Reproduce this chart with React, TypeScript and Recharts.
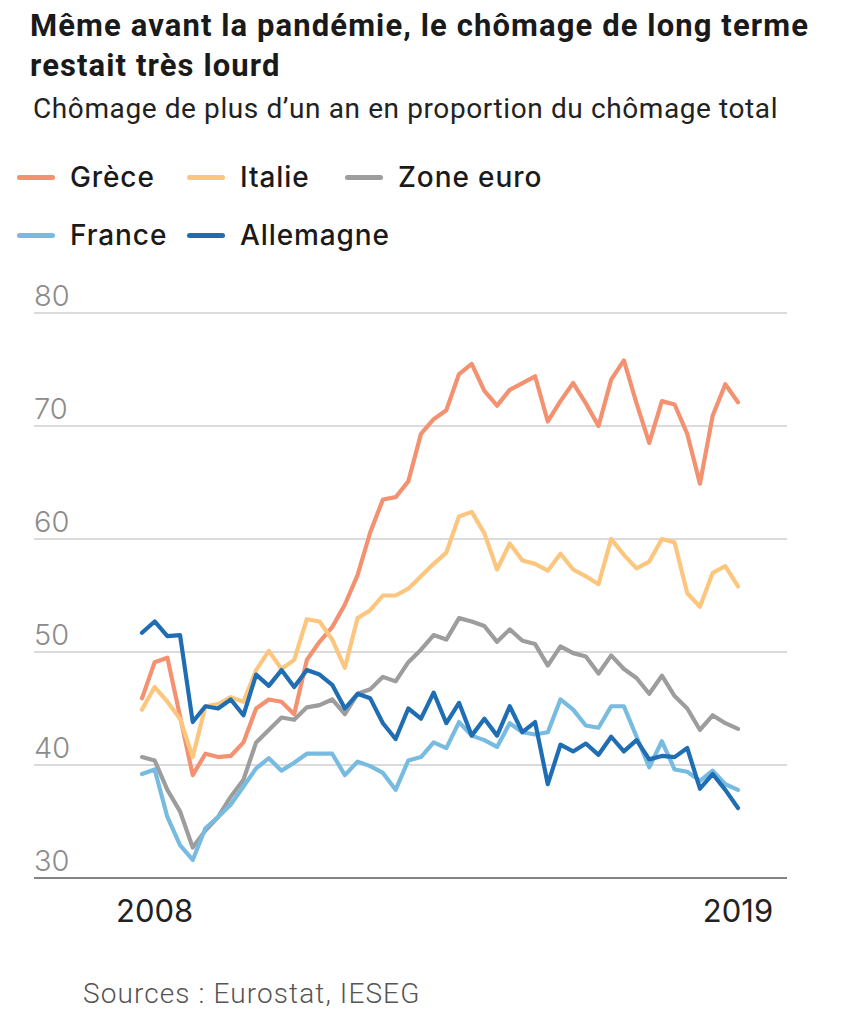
import { CartesianGrid, Line, LineChart, XAxis, YAxis } from "recharts";

// trimestres 2008T1 -> 2019T4
const years = [2008, 2009, 2010, 2011, 2012, 2013, 2014, 2015, 2016, 2017, 2018, 2019];
const quarters = years.flatMap((y) => ["T1", "T2", "T3", "T4"].map((q) => `${y}${q}`));

const grece = [
  45.9, 49.1, 49.5, 44.3, 39.1, 41.0, 40.7, 40.8, 42.0, 45.0, 45.8, 45.6,
  44.5, 49.3, 50.9, 52.2, 54.2, 56.8, 60.6, 63.5, 63.7, 65.1, 69.3, 70.6,
  71.4, 74.6, 75.5, 73.1, 71.8, 73.2, 73.8, 74.4, 70.4, 72.2, 73.8, 72.0,
  70.0, 74.1, 75.8, 72.0, 68.5, 72.2, 71.9, 69.3, 64.9, 70.9, 73.7, 72.1,
];
const italie = [
  44.9, 46.9, 45.6, 44.1, 40.7, 45.2, 45.4, 46.0, 45.6, 48.4, 50.1, 48.5,
  49.3, 52.9, 52.7, 51.1, 48.6, 53.0, 53.7, 55.0, 55.0, 55.6, 56.7, 57.8,
  58.8, 62.0, 62.4, 60.5, 57.3, 59.6, 58.1, 57.8, 57.2, 58.7, 57.3, 56.7,
  56.0, 60.0, 58.6, 57.4, 58.0, 60.0, 59.7, 55.2, 54.0, 57.0, 57.6, 55.8,
];
const zoneEuro = [
  40.7, 40.4, 37.8, 35.9, 32.7, 34.2, 35.4, 37.2, 38.7, 42.0, 43.1, 44.2,
  44.0, 45.1, 45.3, 45.8, 44.5, 46.3, 46.7, 47.8, 47.4, 49.1, 50.2, 51.5,
  51.1, 53.0, 52.7, 52.3, 50.9, 52.0, 51.0, 50.7, 48.8, 50.5, 49.9, 49.6,
  48.1, 49.7, 48.5, 47.7, 46.3, 47.9, 46.1, 45.0, 43.1, 44.4, 43.7, 43.2,
];
const france = [
  39.2, 39.6, 35.4, 32.9, 31.6, 34.4, 35.4, 36.5, 38.1, 39.7, 40.6, 39.5,
  40.2, 41.0, 41.0, 41.0, 39.1, 40.3, 39.9, 39.3, 37.8, 40.4, 40.7, 42.0,
  41.5, 43.8, 42.6, 42.2, 41.6, 43.7, 42.9, 42.7, 42.9, 45.8, 44.9, 43.5,
  43.3, 45.2, 45.2, 42.5, 39.8, 42.1, 39.6, 39.4, 38.6, 39.5, 38.3, 37.8,
];
const allemagne = [
  51.7, 52.7, 51.4, 51.5, 43.8, 45.2, 45.0, 45.8, 44.4, 48.0, 47.0, 48.4,
  46.9, 48.4, 48.0, 47.1, 45.0, 46.3, 45.9, 43.7, 42.3, 45.0, 44.1, 46.4,
  43.7, 45.5, 42.6, 44.1, 42.6, 45.2, 42.9, 43.8, 38.3, 41.8, 41.2, 41.9,
  40.9, 42.5, 41.2, 42.2, 40.5, 40.8, 40.7, 41.5, 37.9, 39.2, 37.8, 36.2,
];

const yTicks = [30, 40, 50, 60, 70, 80];
const xTicks = ["2008T2", "2019T4"];

const series = [
  { key: "grece", name: "Grèce", color: "#f39170", values: grece },
  { key: "italie", name: "Italie", color: "#fdc67f", values: italie },
  { key: "zoneEuro", name: "Zone euro", color: "#9d9d9d", values: zoneEuro },
  { key: "france", name: "France", color: "#77bbe0", values: france },
  { key: "allemagne", name: "Allemagne", color: "#1f6db3", values: allemagne },
];

const data = quarters.map((q, i) => {
  const row: Record<string, string | number> = { q };
  series.forEach((s) => (row[s.key] = s.values[i]));
  return row;
});

// legend grid: [left, top] per item
const legendPos: Record<string, [number, number]> = {
  grece: [17, 158],
  italie: [187, 158],
  zoneEuro: [345, 158],
  france: [17, 216],
  allemagne: [187, 216],
};

const sans = "Inter, 'Noto Sans', sans-serif";

function YTick({ x, y, payload }: any) {
  return (
    <text x={x} y={y - 7} fill="#8c8c8c" fontSize={29} fontFamily={sans} fontWeight={300} textAnchor="start">
      {payload.value}
    </text>
  );
}

function XTick({ x, y, payload }: any) {
  return (
    <text x={x} y={y + 44} fill="#222" fontSize={31} fontFamily={sans} fontWeight={400} textAnchor="middle">
      {String(payload.value).slice(0, 4)}
    </text>
  );
}

export default function App() {
  return (
    <div style={{ position: "relative", width: 868, height: 1024, background: "#fff", overflow: "hidden" }}>
      <style>{"body{margin:0}"}</style>
      <div
        style={{
          position: "absolute",
          left: 30,
          top: 6,
          width: 838,
          fontFamily: "Roboto, sans-serif",
          fontWeight: 700,
          fontSize: 31,
          lineHeight: "40px",
          color: "#1a1a1a",
          letterSpacing: 1.1,
          whiteSpace: "nowrap",
        }}
      >
        Même avant la pandémie, le chômage de long terme
        <br />
        restait très lourd
      </div>
      <div
        style={{
          position: "absolute",
          left: 33,
          top: 89,
          fontFamily: "Roboto, sans-serif",
          fontWeight: 400,
          fontSize: 28,
          lineHeight: "40px",
          color: "#222",
          letterSpacing: 0.6,
          whiteSpace: "nowrap",
        }}
      >
        Chômage de plus d’un an en proportion du chômage total
      </div>

      {series.map((s) => (
        <div
          key={s.key}
          style={{
            position: "absolute",
            left: legendPos[s.key][0],
            top: legendPos[s.key][1],
            height: 38,
            display: "flex",
            alignItems: "center",
            gap: 15,
            whiteSpace: "nowrap",
          }}
        >
          <span style={{ display: "inline-block", width: 38, height: 5, borderRadius: 3, background: s.color }} />
          <span style={{ fontFamily: sans, fontWeight: 500, fontSize: 28, letterSpacing: 0.9, color: "#1a1a1a" }}>
            {s.name}
          </span>
        </div>
      ))}

      <div style={{ position: "absolute", left: 0, top: 260 }}>
        <LineChart width={868} height={680} data={data} margin={{ top: 53, right: 81, bottom: 0, left: 34 }}>
          <CartesianGrid vertical={false} stroke="#cfcfcf" strokeWidth={1.5} />
          <XAxis
            dataKey="q"
            ticks={xTicks}
            interval={0}
            height={62}
            tickSize={0}
            tickMargin={0}
            tickLine={false}
            axisLine={{ stroke: "#666", strokeWidth: 1.5 }}
            padding={{ left: 108, right: 49 }}
            tick={<XTick />}
          />
          <YAxis
            domain={[30, 80]}
            ticks={yTicks}
            width={1}
            mirror
            tickSize={0}
            tickMargin={0}
            axisLine={false}
            tickLine={false}
            interval={0}
            tick={<YTick />}
          />
          {series.map((s) => (
            <Line
              key={s.key}
              type="linear"
              dataKey={s.key}
              name={s.name}
              stroke={s.color}
              strokeWidth={4.2}
              strokeLinejoin="round"
              strokeLinecap="round"
              dot={false}
              activeDot={false}
              isAnimationActive={false}
            />
          ))}
        </LineChart>
      </div>

      <div
        style={{
          position: "absolute",
          left: 83,
          top: 974,
          fontFamily: "Roboto, sans-serif",
          fontWeight: 300,
          fontSize: 28,
          lineHeight: "40px",
          color: "#555",
          letterSpacing: 1.1,
          whiteSpace: "nowrap",
        }}
      >
        Sources : Eurostat, IESEG
      </div>
    </div>
  );
}
